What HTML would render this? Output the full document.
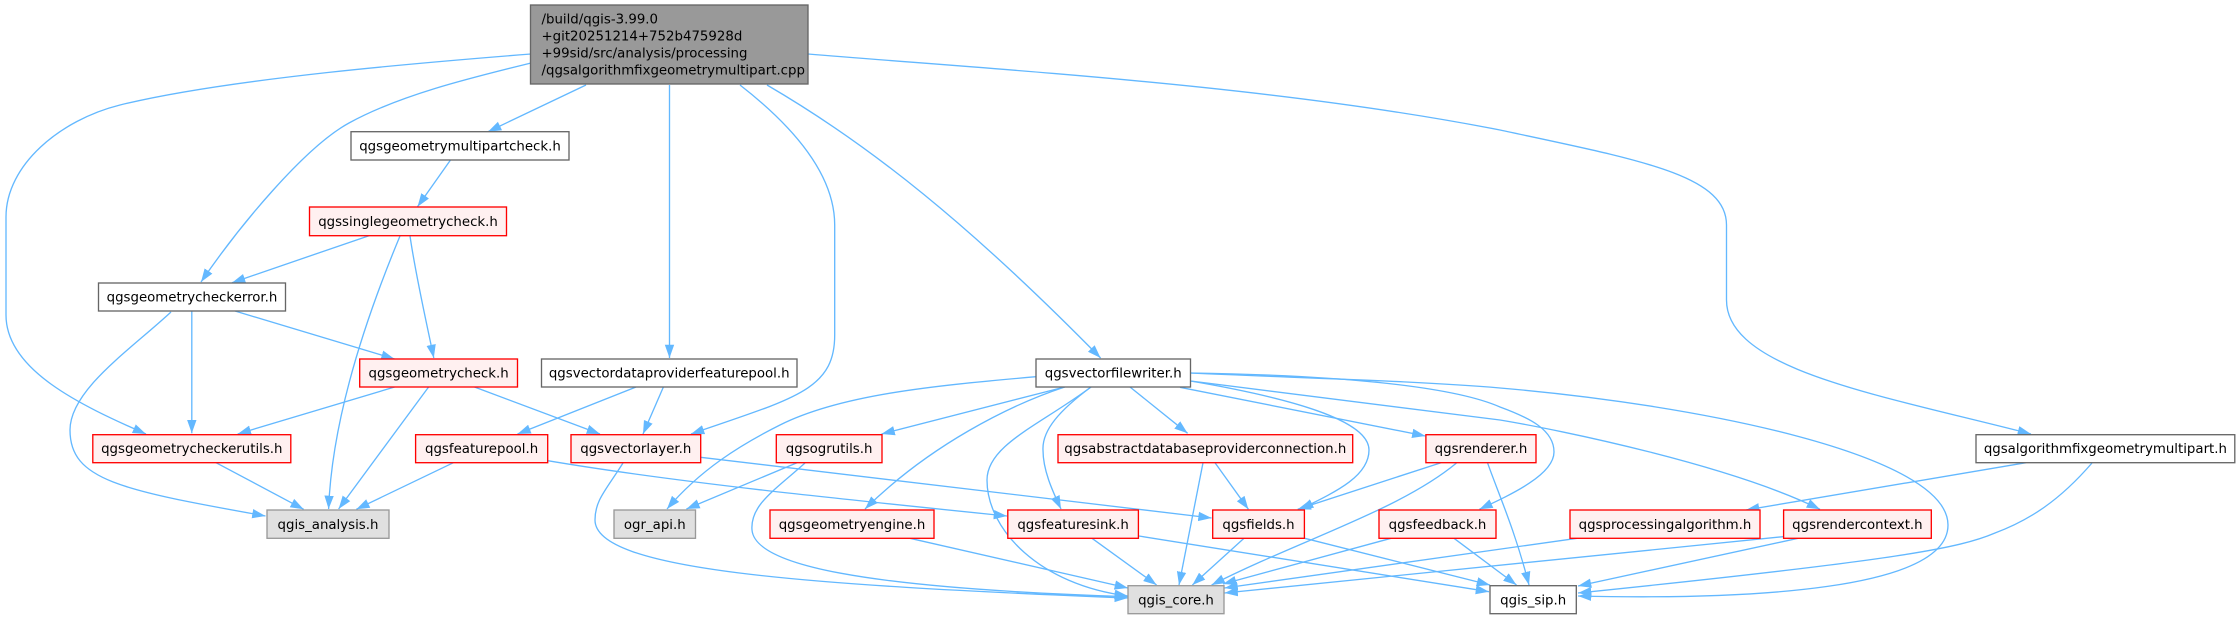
<!DOCTYPE html>
<html><head><meta charset="utf-8"><style>
html,body{margin:0;padding:0;background:#fff}
svg{display:block}
.e path{fill:none;stroke:#63b8ff;stroke-width:1.33;marker-end:url(#a)}
rect{stroke-width:1.33}
.r{fill:#fff0f0;stroke:#f00}
.w{fill:#fff;stroke:#666}
.g{fill:#e0e0e0;stroke:#999}
text{font-family:"DejaVu Sans",sans-serif;font-size:13.33px;fill:#000}
.c text{text-anchor:middle}
</style></head><body>
<svg width="2240" height="619" viewBox="0 0 2240 619" xmlns="http://www.w3.org/2000/svg">
<defs><marker id="a" markerUnits="userSpaceOnUse" markerWidth="15" markerHeight="11" refX="13.3" refY="5" orient="auto"><path d="M0,.3L13.3,5L0,9.7Z" fill="#63b8ff"/></marker></defs>
<g class="e">
<path d="M531,54C430,62 230,78 120,105C60,120 6,165 6,217L6,315C6,370 80,405 146,434"/>
<path d="M531,63C470,78 400,95 349,123C305,147 240,225 201,282"/>
<path d="M586,85L488,131.7"/>
<path d="M450.5,160L417.5,206.7"/>
<path d="M369,235.7L232,282.7"/>
<path d="M400,236C365,320 332,420 328.6,509"/>
<path d="M410,236C416,277 426,320 433.8,358"/>
<path d="M669.5,85L669.5,358"/>
<path d="M740,85C785,120 834.7,170 834.7,225L834.7,335C834.7,390 795,398 691,434"/>
<path d="M767,85C870,145 970,225 1100.6,358"/>
<path d="M808,54C1000,70 1270,85 1500,130C1640,160 1726.5,175 1726.5,225L1726.5,300C1726.5,370 1880,395 2031,434"/>
<path d="M191.8,311L191.8,433.3"/>
<path d="M235,311L394.6,359"/>
<path d="M171,312C130,350 70,390 70,430C70,480 120,490 265.5,516"/>
<path d="M394.6,387L237.7,434"/>
<path d="M428.6,387L338.6,509"/>
<path d="M474.5,387L600,434"/>
<path d="M636,387L517.5,434"/>
<path d="M663.4,387L643,434"/>
<path d="M216,462.7L303.7,509.3"/>
<path d="M453.4,462.7L356.3,509.3"/>
<path d="M547.7,460.7C680,483 850,500 1007,516"/>
<path d="M700.7,457.3L1211.6,518"/>
<path d="M623,463C606,490 595,500 595,520C595,570 800,585 1127.9,598"/>
<path d="M797,462.7L686.4,509"/>
<path d="M805,463C775,490 750,505 752,530C755,565 860,588 1127.9,596.7"/>
<path d="M1036,376.7C930,386 840,395 780,425C740,445 700,470 667,509"/>
<path d="M1064.7,387L881.5,434"/>
<path d="M1064.7,387C1010,405 930,445 865,509"/>
<path d="M1091,387C1040,425 987,445 987,480C987,530 1040,585 1127.9,596"/>
<path d="M1091,387C1060,410 1042,430 1043,450C1043,470 1052,490 1061,509"/>
<path d="M1130,387L1187.6,433.3"/>
<path d="M1180,387.3L1425.4,436"/>
<path d="M1190.5,381C1290,398 1369,420 1369,450C1369,475 1340,490 1300,509.3"/>
<path d="M1190.5,373C1330,375 1450,385 1500,407C1530,418 1554,430 1554,452C1554,475 1510,495 1479.4,509.3"/>
<path d="M1190.5,373C1300,378 1420,381 1500,388C1700,405 1948,455 1948,525C1948,590 1750,600 1578,596"/>
<path d="M1190.5,381L1500,420C1560,430 1730,465 1820,509.3"/>
<path d="M1203,462.7L1179,585"/>
<path d="M1215,462.7L1248.4,509.3"/>
<path d="M1441,462.7L1297.7,509.3"/>
<path d="M1456.5,463C1400,510 1300,540 1211.6,585"/>
<path d="M1487.5,462.7C1497,490 1515,530 1529,585"/>
<path d="M910,538.3L1127.9,588"/>
<path d="M1092,538.3L1156.6,585"/>
<path d="M1138.9,536L1489,591.7"/>
<path d="M1244,538.3L1192.4,585"/>
<path d="M1304.8,538.3L1490,585"/>
<path d="M1391,538.3L1223,584"/>
<path d="M1454,538.3L1516.5,585"/>
<path d="M1577,538.3L1224.5,588"/>
<path d="M1783,536.7L1224.5,593"/>
<path d="M1798,538.3L1578,586"/>
<path d="M2026,462.7L1746,510"/>
<path d="M2092,463C2060,500 2030,520 1995,533C1960,548 1900,560 1578,593"/>
</g>
<rect x="530.5" y="5" width="277.5" height="79" fill="#999" stroke="#666"/>
<text x="541.5" y="23.5">/build/qgis-3.99.0</text>
<text x="541.5" y="40.5">+git20251214+752b475928d</text>
<text x="541.5" y="57.5">+99sid/src/analysis/processing</text>
<text x="541.5" y="74.5">/qgsalgorithmfixgeometrymultipart.cpp</text>
<g class="c">
<rect class="w" x="351" y="131.7" width="218" height="28.3"/><text x="460" y="150.5">qgsgeometrymultipartcheck.h</text>
<rect class="r" x="309.5" y="207" width="197" height="28.7"/><text x="408" y="226">qgssinglegeometrycheck.h</text>
<rect class="w" x="98.5" y="283" width="187" height="28"/><text x="192" y="301.5">qgsgeometrycheckerror.h</text>
<rect class="r" x="359.7" y="359" width="157.8" height="28"/><text x="438.6" y="377.5">qgsgeometrycheck.h</text>
<rect class="w" x="541.5" y="359" width="255.5" height="28"/><text x="669.2" y="377.5">qgsvectordataproviderfeaturepool.h</text>
<rect class="w" x="1036" y="359" width="154.5" height="28"/><text x="1113.2" y="377.5">qgsvectorfilewriter.h</text>
<rect class="r" x="92.8" y="434.7" width="198" height="28"/><text x="191.8" y="453">qgsgeometrycheckerutils.h</text>
<rect class="r" x="415.6" y="434.7" width="132.1" height="28"/><text x="481.6" y="453">qgsfeaturepool.h</text>
<rect class="r" x="571" y="434.7" width="129.7" height="28"/><text x="635.8" y="453">qgsvectorlayer.h</text>
<rect class="r" x="776.3" y="434.7" width="105.7" height="28"/><text x="829.1" y="453">qgsogrutils.h</text>
<rect class="r" x="1058" y="434.7" width="294.7" height="28"/><text x="1205.3" y="453">qgsabstractdatabaseproviderconnection.h</text>
<rect class="r" x="1425.9" y="434.7" width="110.1" height="28"/><text x="1481" y="453">qgsrenderer.h</text>
<rect class="w" x="1976" y="434.7" width="258.8" height="28"/><text x="2105.4" y="453">qgsalgorithmfixgeometrymultipart.h</text>
<rect class="g" x="267" y="510" width="122" height="28.3"/><text x="328" y="529">qgis_analysis.h</text>
<rect class="g" x="614" y="510" width="81.5" height="28.3"/><text x="654.8" y="529">ogr_api.h</text>
<rect class="r" x="770" y="510" width="164" height="28.3"/><text x="852" y="529">qgsgeometryengine.h</text>
<rect class="r" x="1007.8" y="510" width="130.6" height="28.3"/><text x="1073.1" y="529">qgsfeaturesink.h</text>
<rect class="r" x="1212.7" y="510" width="91.7" height="28.3"/><text x="1258.5" y="529">qgsfields.h</text>
<rect class="r" x="1379" y="510" width="117" height="28.3"/><text x="1437.5" y="529">qgsfeedback.h</text>
<rect class="r" x="1570" y="510" width="190" height="28.3"/><text x="1665" y="529">qgsprocessingalgorithm.h</text>
<rect class="r" x="1783.6" y="510" width="147.7" height="28.3"/><text x="1857.4" y="529">qgsrendercontext.h</text>
<rect class="g" x="1128" y="585.7" width="96" height="28"/><text x="1176" y="604.5">qgis_core.h</text>
<rect class="w" x="1490" y="585.7" width="86.3" height="28"/><text x="1533.2" y="604.5">qgis_sip.h</text>
</g>
</svg>
</body></html>
